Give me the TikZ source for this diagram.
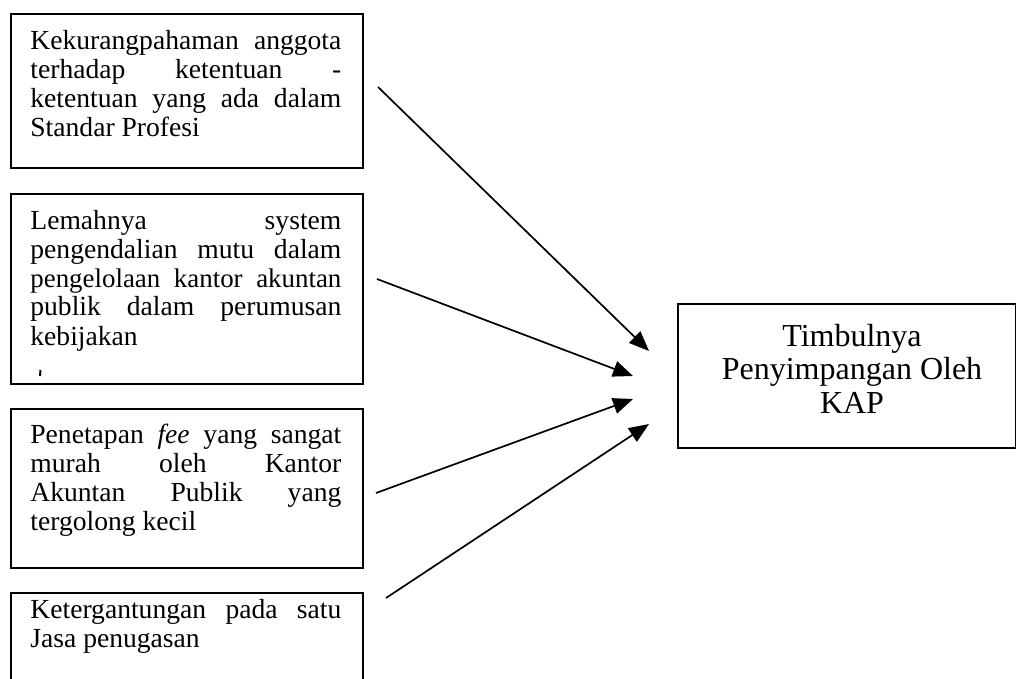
\documentclass[tikz,border=0pt]{standalone}
\usepackage{fontspec}
\setmainfont{Liberation Serif}
\usetikzlibrary{arrows.meta}
\newcommand{\jl}[1]{\makebox[155.5pt][s]{#1}}
\begin{document}
\begin{tikzpicture}[x=0.5pt,y=-0.5pt,
  box/.style={draw, line width=1pt, inner sep=0pt, anchor=north west},
  lefttext/.style={anchor=base west, inner sep=0pt, font=\fontsize{13.8}{14.5}\selectfont},
  righttext/.style={anchor=base, inner sep=0pt, font=\fontsize{16}{16.9}\selectfont},
  conn/.style={line width=0.85pt, -{Triangle[length=10pt,width=8pt]}}]
\useasboundingbox (0,0) rectangle (1016,679);
\clip (0,0) rectangle (1016,679);

% boxes
\node[box, minimum width=176pt, minimum height=77pt] (b1) at (10,13) {};
\node[box, minimum width=176pt, minimum height=95pt] (b2) at (10,193) {};
\node[box, minimum width=176pt, minimum height=79.5pt] (b3) at (10,408) {};
\node[box, minimum width=176pt, minimum height=60pt] (b4) at (10,592) {};
\node[box, minimum width=169pt, minimum height=72pt] (b5) at (677,303) {};

% texts
\node[lefttext] (t1) at (30,50) {\parbox[t]{155.5pt}{%
\jl{Kekurangpahaman anggota}\\
\jl{terhadap ketentuan -}\\
\jl{ketentuan yang ada dalam}\\
Standar Profesi}};

\node[lefttext] (t2) at (30,229) {\parbox[t]{155.5pt}{%
\jl{Lemahnya system}\\
\jl{pengendalian mutu dalam}\\
\jl{\fontsize{13.45}{14.5}\selectfont pengelolaan kantor akuntan}\\
\jl{publik dalam perumusan}\\
kebijakan}};
\draw[line width=1pt] (40.5,370) -- (40,376);

\node[lefttext] (t3) at (30,443) {\parbox[t]{155.5pt}{%
\jl{Penetapan \textit{fee} yang sangat}\\
\jl{murah oleh Kantor}\\
\jl{Akuntan Publik yang}\\
tergolong kecil}};

\node[lefttext] (t4) at (30,618) {\parbox[t]{155.5pt}{%
\jl{Ketergantungan pada satu}\\
Jasa penugasan}};

\node[righttext] (t5) at (852,346) {\parbox[t]{165pt}{\centering
Timbulnya\\
Penyimpangan Oleh\\
KAP}};

% connectors
\coordinate (s1) at (378,87);  \coordinate (e1) at (649,351);
\coordinate (s2) at (377,279); \coordinate (e2) at (633,376);
\coordinate (s3) at (376,493); \coordinate (e3) at (633,399);
\coordinate (s4) at (386,598); \coordinate (e4) at (649,424);
\draw[conn] (s1) -- (e1);
\draw[conn] (s2) -- (e2);
\draw[conn] (s3) -- (e3);
\draw[conn] (s4) -- (e4);
\end{tikzpicture}
\end{document}
